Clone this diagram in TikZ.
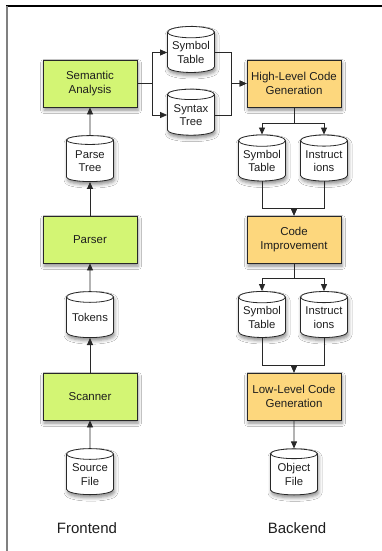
\documentclass[tikz,border=0pt]{standalone}
\usepackage{fontspec}
\setmainfont{Liberation Sans}
\usetikzlibrary{arrows.meta,shapes.geometric,shadows.blur}
\definecolor{frontfill}{RGB}{211,245,116}
\definecolor{backfill}{RGB}{253,215,125}
\definecolor{edge}{RGB}{40,40,40}
\definecolor{ink}{RGB}{30,30,30}
\tikzset{
  softshadow/.style={blur shadow={shadow xshift=1pt, shadow yshift=-3pt,
      shadow blur radius=3.5pt, shadow opacity=45}},
  stage/.style={draw=edge, line width=0.8pt, minimum width=94pt,
      minimum height=47pt, inner sep=0pt, align=center, text=ink,
      font=\fontsize{11.5}{13.5}\selectfont, softshadow},
  front/.style={stage, fill=frontfill},
  back/.style={stage, fill=backfill},
  store/.style={cylinder, shape border rotate=90, aspect=0.3,
      draw=edge, line width=0.8pt, fill=white, minimum width=47pt,
      minimum height=46pt, inner sep=0pt, align=center, text=ink,
      font=\fontsize{11.3}{13.5}\selectfont, softshadow},
  flow/.style={draw=edge, line width=0.8pt,
      -{Triangle[length=7pt,width=6pt]}},
  caption/.style={font=\fontsize{15}{18}\selectfont, text=ink}
}
\begin{document}
\begin{tikzpicture}[x=1pt, y=-1pt]
  \useasboundingbox (0,0) rectangle (382,551);
  \fill[white] (0,0) rectangle (382,551);
  % frame edges
  \draw[black, line width=1.3pt] (6,6) -- (382,6);
  \draw[gray, line width=1.6pt] (7,6) -- (7,551);

  % frontend column
  \node[front] (sa) at (90,83.5) {Semantic\\Analysis};
  \node[store] (pt) at (90,161) {Parse\\Tree};
  \node[front] (parser) at (90,239.5) {Parser};
  \node[store] (tok) at (90,317.5) {Tokens};
  \node[front] (scan) at (90,396.5) {Scanner};
  \node[store] (src) at (90,474.5) {Source\\File};

  % intermediate stores
  \node[store] (st1) at (191,52.5) {Symbol\\Table};
  \node[store] (syn) at (191,115) {Syntax\\Tree};

  % backend column
  \node[back] (hl) at (294,83.5) {High-Level Code\\Generation};
  \node[store] (st2) at (262,161) {Symbol\\Table};
  \node[store] (ins1) at (324,161) {Instruct\\ions};
  \node[back] (ci) at (294,239.5) {Code\\Improvement};
  \node[store] (st3) at (262,317.5) {Symbol\\Table};
  \node[store] (ins2) at (324,317.5) {Instruct\\ions};
  \node[back] (ll) at (294,396.5) {Low-Level Code\\Generation};
  \node[store] (obj) at (294,474.5) {Object\\File};

  \node[caption] (fe) at (87,528) {Frontend};
  \node[caption] (be) at (297,528) {Backend};

  % frontend flow
  \draw[flow] (src.north) -- (scan.south);
  \draw[flow] (scan.north) -- (tok.south);
  \draw[flow] (tok.north) -- (parser.south);
  \draw[flow] (parser.north) -- (pt.south);
  \draw[flow] (pt.north) -- (sa.south);

  % semantic analysis outputs
  \draw[flow] (sa.east) -- ++(15,0) |- (st1.west);
  \draw[flow] (sa.east) -- ++(15,0) |- (syn.west);
  \draw[flow] (st1.east) -- ++(16,0) |- (hl.west);
  \draw[flow] (syn.east) -- ++(16,0) |- (hl.west);

  % backend flow
  \draw[flow] (hl.south) -- ++(0,16) -| (st2.north);
  \draw[flow] (hl.south) -- ++(0,16) -| (ins1.north);
  \draw[flow] (st2.south) |- ([yshift=7pt]ci.north) -- (ci.north);
  \draw[flow] (ins1.south) |- ([yshift=7pt]ci.north) -- (ci.north);
  \draw[flow] (ci.south) -- ++(0,15) -| (st3.north);
  \draw[flow] (ci.south) -- ++(0,15) -| (ins2.north);
  \draw[flow] (st3.south) |- ([yshift=7pt]ll.north) -- (ll.north);
  \draw[flow] (ins2.south) |- ([yshift=7pt]ll.north) -- (ll.north);
  \draw[flow] (ll.south) -- (obj.north);
\end{tikzpicture}
\end{document}
